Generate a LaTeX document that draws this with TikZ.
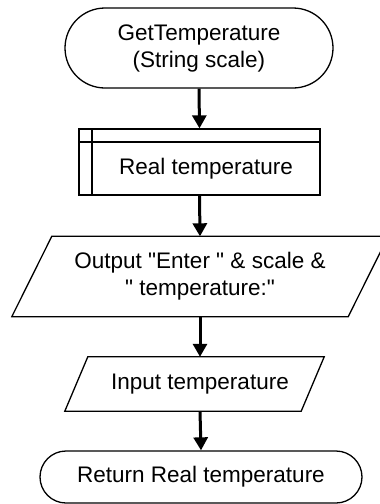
\documentclass[tikz,border=0pt]{standalone}
\usepackage{fontspec}
\setmainfont{Liberation Sans}[Ligatures=TeXOff]
\usetikzlibrary{arrows.meta}
\begin{document}
\begin{tikzpicture}[x=1pt,y=1pt,
  every node/.style={font=\fontsize{22.5}{27}\selectfont, align=center, inner sep=0pt},
  shapeline/.style={line width=1.3pt},
  term/.style={draw, shapeline, rounded corners=#1},
  flow/.style={line width=3pt, -{Triangle[width=14pt,length=13pt]}}
]
\useasboundingbox (0,0) rectangle (380,-504);
% top terminal
\node[term=40pt, minimum width=268pt, minimum height=80pt] (start) at (199,-48) {GetTemperature\\(String scale)};
% declaration box
\node[draw, shapeline, minimum width=241pt, minimum height=66pt] (decl) at (199.5,-162) {};
\node (decltext) at (206,-169) {Real temperature};
\draw[shapeline] ([xshift=13.5pt]decl.north west) -- ([xshift=13.5pt]decl.south west);
\draw[shapeline] ([yshift=-13.5pt]decl.north west) -- ([yshift=-13.5pt]decl.north east);
% output parallelogram
\node[minimum width=336pt, minimum height=80pt] (out) at (200,-276.5) {Output "Enter " \& scale \&\\" temperature:"};
\draw[shapeline] ([xshift=20pt]out.north west) -- ([xshift=20pt]out.north east) -- ([xshift=-20pt]out.south east) -- ([xshift=-20pt]out.south west) -- cycle;
% input parallelogram
\node[minimum width=236pt, minimum height=54pt] (in) at (200,-384) {Input temperature};
\draw[shapeline] ([xshift=6pt]in.north west) -- ([xshift=6pt]in.north east) -- ([xshift=-17pt]in.south east) -- ([xshift=-17pt]in.south west) -- cycle;
% bottom terminal
\node[term=26pt, minimum width=322pt, minimum height=52pt] (ret) at (201,-477) {Return Real temperature};
% connectors
\draw[flow] (start.south) -- (decl.north);
\draw[flow] (decl.south) -- (out.north);
\draw[flow] (out.south) -- (in.north);
\draw[flow] (in.south) -- (ret.north);
\end{tikzpicture}
\end{document}
